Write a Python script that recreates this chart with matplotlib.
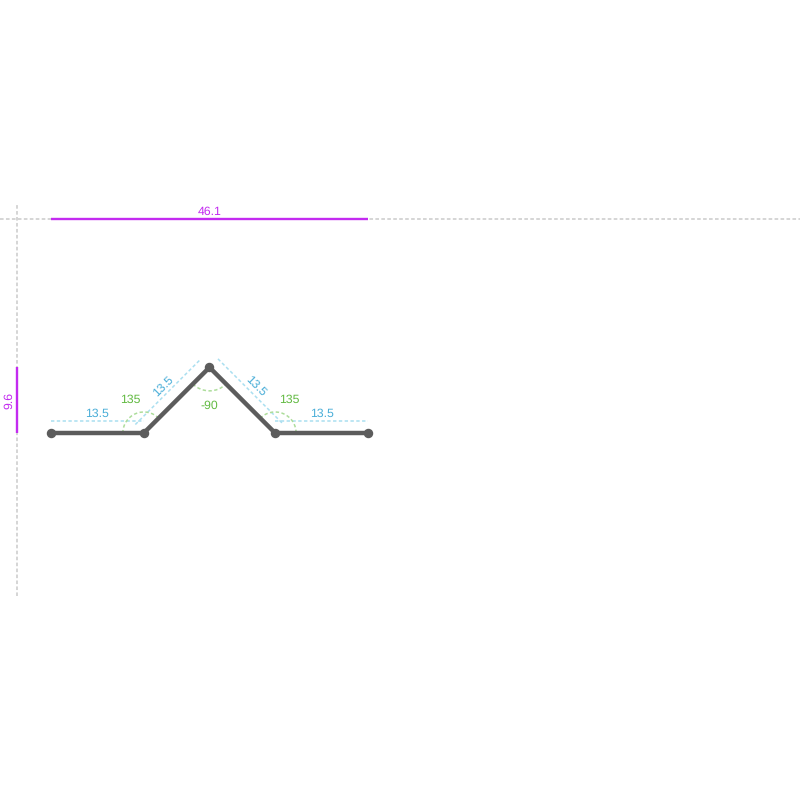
import numpy as np
import matplotlib
matplotlib.use("Agg")
import matplotlib.pyplot as plt
from matplotlib.patches import Arc

# Section profile
seg_lengths = [13.5, 13.5, 13.5, 13.5]
seg_headings = [0, 45, -45, 0]
len_labels = ["13.5", "13.5", "13.5", "13.5"]
angle_labels = ["135", "-90", "135"]
total_width = 46.1
total_height = 9.6

PX = 317 / total_width          # pixels per model unit
X0, Y0 = 51, 433                # pixel position of the first point
GRAY, PURPLE, BLUE, GREEN, DARK = "#d2d2d2", "#c32bf0", "#4aaed8", "#62ba42", "#5c5c5c"
LIGHT_BLUE, LIGHT_GREEN = "#aadff0", "#addd9b"
FS = 8.8

plt.rcParams["font.family"] = ["Liberation Sans", "DejaVu Sans"]
plt.rcParams["text.hinting"] = "none"
fig = plt.figure(figsize=(8, 8), dpi=100)
ax = fig.add_axes([0, 0, 1, 1])
ax.set_xlim(-X0 / PX, (800 - X0) / PX)
ax.set_ylim(-(800 - Y0) / PX, Y0 / PX)
ax.axis("off")

rad = np.radians(seg_headings)
xs = np.concatenate([[0], np.cumsum(np.array(seg_lengths) * np.cos(rad))])
ys = np.concatenate([[0], np.cumsum(np.array(seg_lengths) * np.sin(rad))])

# guide lines
left = -34 / PX
top = 214 / PX
ax.plot(ax.get_xlim(), [top, top], color=GRAY, lw=1.3, ls=(0, (2, 1.3)), zorder=1)
ax.plot([left, left], [(433 - 596) / PX, (433 - 203) / PX], color=GRAY, lw=1.3, ls=(0, (2, 1.3)), zorder=1)

# overall dimensions
ax.plot([xs[0], xs[-1]], [top, top], color=PURPLE, lw=1.7, solid_capstyle="butt", zorder=2)
ax.plot([left, left], [0, total_height], color=PURPLE, lw=1.7, solid_capstyle="butt", zorder=2)
ax.text((xs[0] + xs[-1]) / 2 + 0.5 / PX, top + 1.5 / PX, f"{total_width}", color=PURPLE, fontsize=FS,
        ha="center", va="bottom")
ax.text(left - 7.5 / PX, total_height / 2, f"{total_height}", color=PURPLE, fontsize=FS,
        rotation=90, ha="center", va="center")

# segment offset dimension lines and labels
off = 12 / PX
for i, (h, lab) in enumerate(zip(rad, len_labels)):
    nx, ny = -np.sin(h), np.cos(h)
    ax.plot([xs[i] + nx * off, xs[i + 1] + nx * off], [ys[i] + ny * off, ys[i + 1] + ny * off],
            color=LIGHT_BLUE, lw=1.1, ls=(0, (2.2, 1.6)), zorder=2)
    mx, my = (xs[i] + xs[i + 1]) / 2 + nx * 19.5 / PX, (ys[i] + ys[i + 1]) / 2 + ny * 19.5 / PX
    ax.text(mx, my, lab, color=BLUE, fontsize=FS, ha="center", va="center",
            rotation=np.degrees(h), rotation_mode="anchor")

# angle arcs and labels
for i, lab in enumerate(angle_labels, start=1):
    h0, h1 = seg_headings[i - 1], seg_headings[i]
    if lab.startswith("-"):
        arc_r = 23.5 / PX
        theta1, theta2 = 180 + h0, 360 + h1
        lx, ly = xs[i], ys[i] - 38.5 / PX
    else:
        arc_r = 21 / PX
        theta1, theta2 = h1, h0 + 180
        lx = xs[i] + (-14 if h0 == 0 else 14) / PX
        ly = ys[i] + 33.5 / PX
    ax.add_patch(Arc((xs[i], ys[i]), 2 * arc_r, 2 * arc_r, theta1=theta1, theta2=theta2,
                     color=LIGHT_GREEN, lw=1.1, ls=(0, (2.2, 1.6)), zorder=2))
    ax.text(lx, ly, lab, color=GREEN, fontsize=FS, ha="center", va="center")

# profile
ax.plot(xs, ys, color=DARK, lw=3.2, marker="o", ms=5.8, solid_joinstyle="miter", zorder=4)

fig.savefig("out.png", dpi=100)
